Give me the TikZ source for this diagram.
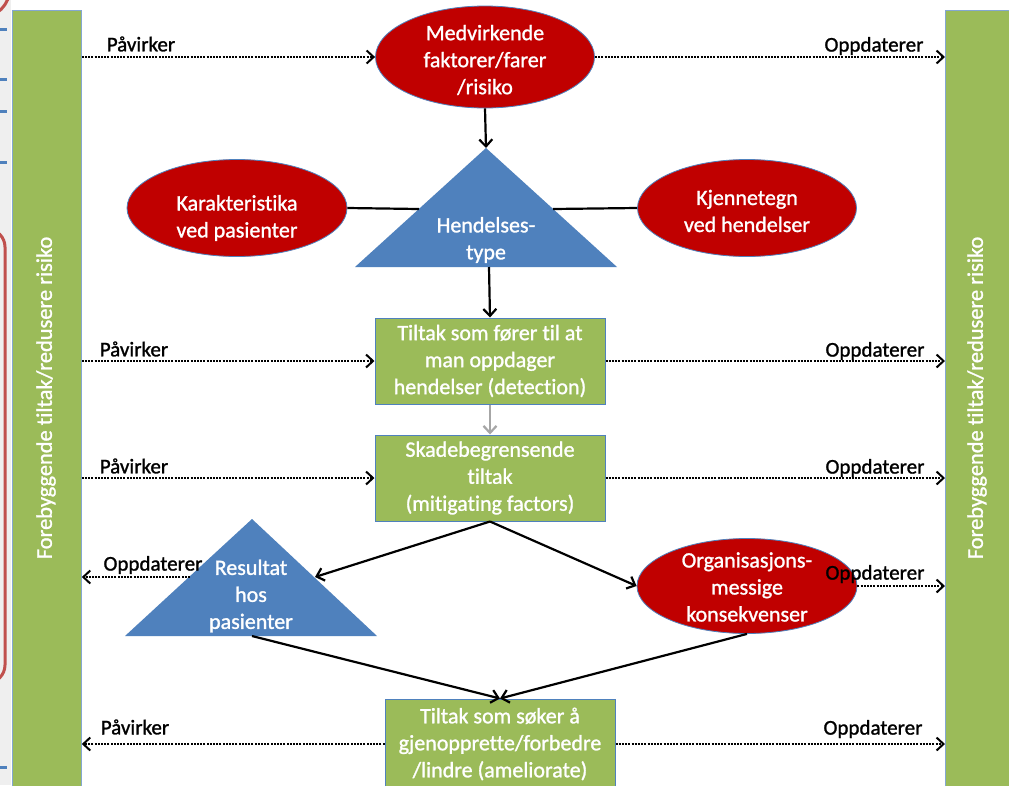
\documentclass[tikz,border=0pt]{standalone}
\usepackage{fontspec}
\setmainfont{Carlito}[Ligatures=NoCommon, FakeBold=1.2]
\usetikzlibrary{arrows.meta,shapes.geometric}
\definecolor{cRed}{HTML}{C00000}
\definecolor{cBlue}{HTML}{4F81BD}
\definecolor{cGreen}{HTML}{9BBB59}
\definecolor{cLine}{HTML}{C0504D}
\definecolor{cGrayA}{HTML}{A6A6A6}
\definecolor{cStrip}{HTML}{EFEFEF}
\newcommand{\mywfont}{\fontsize{22}{27}\selectfont}
\newcommand{\mylfont}{\fontsize{21}{27}\selectfont}
\newcommand{\mybfont}{\fontsize{22.4}{27}\selectfont}
\begin{document}
\begin{tikzpicture}[x=1pt,y=-1pt,
  redell/.style={ellipse, fill=cRed, draw=cBlue, line width=0.8pt, inner sep=0pt},
  greenbox/.style={rectangle, fill=cGreen, draw=cBlue, line width=1pt, minimum width=230pt, minimum height=86pt, inner sep=0pt, text=white, align=center, font=\mywfont},
  bar/.style={rectangle, fill=cGreen, draw=cBlue!70, line width=0.8pt, anchor=north west, inner sep=0pt},
  wtext/.style={text=white, align=center, font=\mywfont, inner sep=0pt},
  lbl/.style={text=black, font=\mylfont, inner sep=0pt},
  solidarr/.style={line width=2.2pt, -{Straight Barb[length=7pt,width=13pt]}},
  plainline/.style={line width=2.2pt},
  dotarr/.style={line width=2.4pt, dash pattern=on 2pt off 1.2pt, -{Straight Barb[length=7pt,width=13pt,line width=2pt]}},
]
\clip (0,0) rectangle (1009,785);
\useasboundingbox (0,0) rectangle (1009,785);
\fill[white] (0,0) rectangle (1009,785);
\fill[cStrip] (0,0) rectangle (11,785);
% cut-off slide decorations at the left edge
\draw[cLine, line width=3pt] (-20,-12) circle (30pt);
\draw[cLine, line width=3pt, rounded corners=18pt] (-40,229) -- (5,229) -- (5,683) -- (-40,683);
\foreach \yy in {29,79,111,162,767} \draw[cBlue, line width=3pt] (0,\yy) -- (7,\yy);

% side bars
\node[bar, minimum width=69pt, minimum height=800pt] (lbar) at (12,10) {};
\node[bar, minimum width=64pt, minimum height=800pt] (rbar) at (945,10) {};
\node[wtext, rotate=90, font=\mybfont] (lbt) at (46,398) {Forebyggende tiltak/redusere risiko};
\node[wtext, rotate=90, font=\mybfont] (rbt) at (977,398) {Forebyggende tiltak/redusere risiko};

% top ellipse
\node[redell, minimum width=219pt, minimum height=102pt] (mf) at (485,57) {};
\node[wtext] (mft) at (485,60) {Medvirkende\\faktorer/farer\\/risiko};

% side ellipses
\node[redell, minimum width=220pt, minimum height=97pt] (ka) at (237,208) {};
\node[wtext] (kat) at (237,218) {Karakteristika\\ved pasienter};
\node[redell, minimum width=219pt, minimum height=97pt] (kj) at (747,208) {};
\node[wtext] (kjt) at (747,211) {Kjennetegn\\ved hendelser};

% triangle Hendelsestype
\coordinate (hA) at (486,148);
\coordinate (hL) at (355,267);
\coordinate (hR) at (617,267);
\fill[cBlue] (hA) -- (hR) -- (hL) -- cycle;
\coordinate (hB) at (489,267);
\coordinate (hl) at (419,209);
\coordinate (hr) at (553,209);
\node[wtext] (ht) at (486,240) {Hendelses-\\type};

% boxes
\node[greenbox] (det) at (490,361) {Tiltak som fører til at\\man oppdager\\hendelser (detection)};
\node[greenbox] (mit) at (490,478) {Skadebegrensende\\tiltak\\(mitigating factors)};
\node[greenbox, minimum height=90pt] (am) at (500,744) {Tiltak som søker å\\gjenopprette/forbedre\\/lindre (ameliorate)};

% triangle Resultat
\coordinate (rA) at (252,519);
\coordinate (rL) at (125,636);
\coordinate (rR) at (377,636);
\fill[cBlue] (rA) -- (rR) -- (rL) -- cycle;
\coordinate (rr) at (315,577);
\coordinate (rl) at (190,577);
\coordinate (rb) at (252,636);
\node[wtext] (rt) at (251,596) {Resultat\\hos\\pasienter};

% org ellipse
\node[redell, minimum width=220pt, minimum height=95pt] (org) at (747,586) {};
\node[wtext] (orgt) at (747,587) {Organisasjons-\\messige\\konsekvenser};

% solid connectors
\draw[solidarr] (mf.south) -- (hA);
\draw[plainline] (ka.east) -- (hl);
\draw[plainline] (hr) -- (kj.west);
\draw[solidarr] (hB) -- (det.north);
\draw[solidarr, cGrayA] (det.south) -- (mit.north);
\draw[solidarr] (mit.south) -- (rr);
\draw[solidarr] (mit.south) -- (org.west);
\draw[solidarr] (rb) -- (am.north);
\draw[solidarr] (org.south) -- (am.north);

% dotted connectors
\draw[dotarr] (lbar.east |- mf.west) -- (mf.west);
\draw[dotarr] (mf.east) -- (rbar.west |- mf.east);
\draw[dotarr] (lbar.east |- det.west) -- (det.west);
\draw[dotarr] (det.east) -- (rbar.west |- det.east);
\draw[dotarr] (lbar.east |- mit.west) -- (mit.west);
\draw[dotarr] (mit.east) -- (rbar.west |- mit.east);
\draw[dotarr] (rl) -- (lbar.east |- rl);
\draw[dotarr] (org.east) -- (rbar.west |- org.east);
\draw[dotarr] (am.west) -- (lbar.east |- am.west);
\draw[dotarr] (am.east) -- (rbar.west |- am.east);

% labels
\node[lbl] (p1) at (141,44) {Påvirker};
\node[lbl] (o1) at (874,46) {Oppdaterer};
\node[lbl] (p2) at (134,349) {Påvirker};
\node[lbl] (o2) at (875,351) {Oppdaterer};
\node[lbl] (p3) at (134,466) {Påvirker};
\node[lbl] (o3) at (875,468) {Oppdaterer};
\node[lbl] (o4) at (153,565) {Oppdaterer};
\node[lbl] (o5) at (875,574) {Oppdaterer};
\node[lbl] (p5) at (135,727) {Påvirker};
\node[lbl] (o6) at (873,729) {Oppdaterer};
\end{tikzpicture}
\end{document}
